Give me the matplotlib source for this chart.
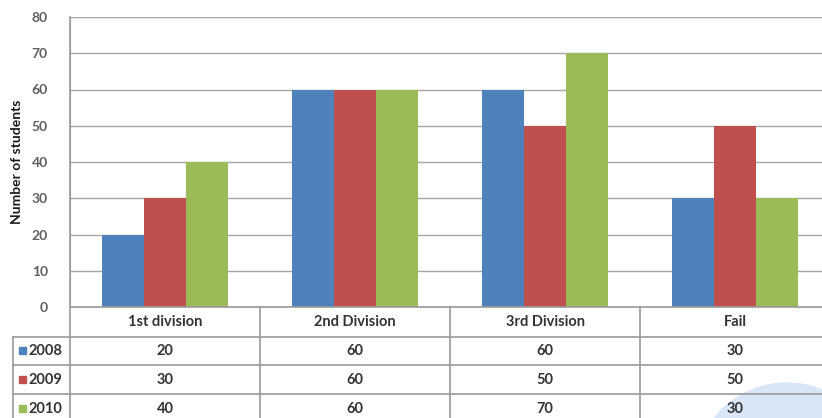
import matplotlib.pyplot as plt
from matplotlib.patches import Circle, Rectangle

categories = ['1st division', '2nd Division', '3rd Division', 'Fail']
years = ['2008', '2009', '2010']
v2008 = [20, 60, 60, 30]
v2009 = [30, 60, 50, 50]
v2010 = [40, 60, 70, 30]
series = [v2008, v2009, v2010]
colors = ['#4F81BD', '#C0504D', '#9BBB59']

plt.rcParams['font.family'] = ['Lato', 'DejaVu Sans']

W, H = 822, 418
fig = plt.figure(figsize=(W / 100, H / 100), dpi=100)

# plot area in pixels (right edge runs off the picture)
px0, px1 = 70, 830
py0, py1 = 307, 17
ax = fig.add_axes([px0 / W, (H - py0) / H, (px1 - px0) / W, (py0 - py1) / H])

bw = 0.22
for i, (vals, c, yr) in enumerate(zip(series, colors, years)):
    xs = [k + (i - 1) * bw for k in range(len(categories))]
    ax.bar(xs, vals, width=bw, color=c, zorder=3, label=yr)

ax.set_xlim(-0.5, len(categories) - 0.5)
ax.set_ylim(0, 80)
ax.set_yticks(range(0, 81, 10))
ax.set_xticks([])
ax.tick_params(axis='y', length=0, pad=16)
for lab in ax.get_yticklabels():
    lab.set_fontsize(10)
    lab.set_fontweight('bold')
    lab.set_color('#5f5f5f')
ax.grid(axis='y', color='#a6a6a6', linewidth=1, zorder=0)
for s in ['top', 'right', 'bottom']:
    ax.spines[s].set_visible(False)
ax.spines['left'].set_color('#a6a6a6')
ax.set_ylabel('Number of students', fontsize=10, fontweight='bold',
              color='#1a1a1a', labelpad=6)

# data table drawn on an overlay in pixel coordinates
tab = fig.add_axes([0, 0, 1, 1], zorder=5)
tab.set_xlim(0, W)
tab.set_ylim(H, 0)
tab.axis('off')
tab.patch.set_alpha(0)

# watermark circle
tab.add_patch(Circle((787, 476), 93, color='#d9e6f8', zorder=0, clip_on=False))

lc = '#9a9a9a'
txt = '#333333'
colw = (px1 - px0) / len(categories)
rows = [307, 337, 365, 394, 424]
tab.plot([px0, px0], [py1, H], color=lc, lw=1.2, zorder=1)
tab.plot([13, 13], [rows[1], H], color=lc, lw=1.2, zorder=1)
tab.plot([px0, W], [rows[0], rows[0]], color=lc, lw=1.2, zorder=1)
for r in rows[1:4]:
    tab.plot([13, W], [r, r], color=lc, lw=1.2, zorder=1)
for k in range(1, len(categories)):
    xd = px0 + k * colw
    tab.plot([xd, xd], [rows[0], H], color=lc, lw=1.2, zorder=1)

for k, cat in enumerate(categories):
    xc = px0 + (k + 0.5) * colw
    tab.text(xc, (rows[0] + rows[1]) / 2, cat, ha='center', va='center',
             fontsize=10.5, fontweight='bold', color=txt)
    for i, vals in enumerate(series):
        tab.text(xc, (rows[i + 1] + rows[i + 2]) / 2, str(vals[k]), ha='center',
                 va='center', fontsize=10.5, fontweight='bold', color=txt)

for i, (yr, c) in enumerate(zip(years, colors)):
    yc = (rows[i + 1] + rows[i + 2]) / 2
    tab.add_patch(Rectangle((19, yc - 4), 7, 7, color=c))
    tab.text(28, yc, yr, ha='left', va='center', fontsize=10.5,
             fontweight='bold', color=txt)

fig.savefig('out.png', dpi=100)
